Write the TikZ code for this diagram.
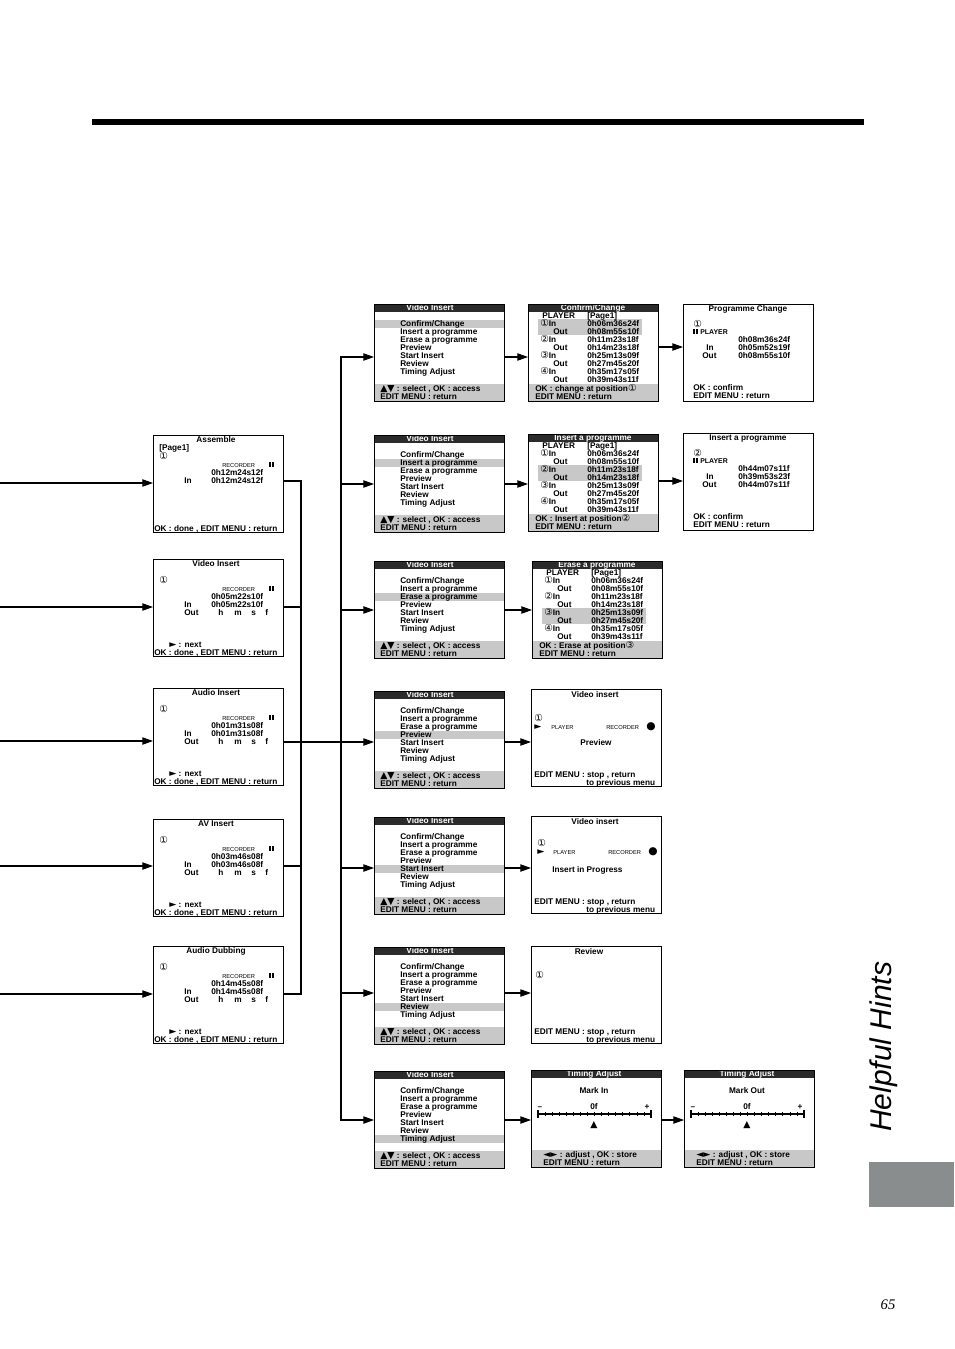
\documentclass[tikz,border=0pt]{standalone}
\usepackage{fontspec}
\setmainfont{Liberation Sans}
\newfontfamily\dv{DejaVu Sans}
\newfontfamily\serifit{Liberation Serif}
\usetikzlibrary{arrows.meta}
\definecolor{bardark}{HTML}{2B2B2B}
\definecolor{hlgray}{HTML}{C8C8C8}
\definecolor{tabgray}{HTML}{8A8D8E}
\newcommand\fs{\fontsize{6.2}{7}\selectfont\bfseries}
\newcommand\fsm{\fontsize{4.3}{5}\selectfont\mdseries}
\newcommand\fpl{\fontsize{5.2}{6}\selectfont\bfseries}
\newcommand\cd[1]{{\dv\mdseries\fontsize{7.2}{7}\selectfont #1}}
\newcommand\sym[1]{{\dv\fontsize{7}{7}\selectfont #1}}
\tikzset{
  scr/.style={draw=black, line width=0.9pt, minimum width=97.5pt, minimum height=72.75pt, anchor=north west, inner sep=0},
  tx/.style={anchor=base west, inner sep=0, font=\fs},
  tc/.style={anchor=base, inner sep=0, font=\fs},
  wt/.style={tc, text=white},
  bar/.style={fill=bardark},
  hl/.style={fill=hlgray},
  ln/.style={line width=0.8pt},
  arr/.style={ln, -{Triangle[length=8pt,width=5.5pt]}},
}
% pause symbol at local (x,y-baseline)
\newcommand\pause[2]{\fill (#1,#2-5.5) rectangle (#1+1.8,#2); \fill (#1+3,#2-5.5) rectangle (#1+4.8,#2);}
% column 2 menu
\newcommand\menubox[4]{%
\begin{scope}[shift={(#2,#3)}]
  \fill[hl] (0,15.5+8*#4) rectangle (130,23.5+8*#4);
  \fill[bar] (0,0) rectangle (130,8);
  \fill[hl] (0,80) rectangle (130,97);
  \node[wt] at (56,6.6) {Video Insert};
  \node[tx] at (26,22) {Confirm/Change};
  \node[tx] at (26,30) {Insert a programme};
  \node[tx] at (26,38) {Erase a programme};
  \node[tx] at (26,46) {Preview};
  \node[tx] at (26,54) {Start Insert};
  \node[tx] at (26,62) {Review};
  \node[tx] at (26,70) {Timing Adjust};
  \node[tx] at (6,87) {\sym{▲▼} : select , OK : access};
  \node[tx] at (6,95) {EDIT MENU : return};
\end{scope}
\node[scr] (#1) at (#2,#3) {};}
% column 3 list
\newcommand\listbox[6]{%
\begin{scope}[shift={(#2,#3)}]
  \fill[hl] (10,15+16*#5) rectangle (114,31+16*#5);
  \fill[bar] (0,0) rectangle (130,8);
  \fill[hl] (0,80) rectangle (130,97);
  \node[wt] at (65,6.6) {#4};
  \node[tx] at (14,14) {PLAYER};
  \node[tx] at (59,14) {[Page1]};
  \node[tx] at (12,22) {\cd{①}In};  \node[tx] at (59,22) {0h06m36s24f};
  \node[tx] at (25,30) {Out};       \node[tx] at (59,30) {0h08m55s10f};
  \node[tx] at (12,38) {\cd{②}In};  \node[tx] at (59,38) {0h11m23s18f};
  \node[tx] at (25,46) {Out};       \node[tx] at (59,46) {0h14m23s18f};
  \node[tx] at (12,54) {\cd{③}In};  \node[tx] at (59,54) {0h25m13s09f};
  \node[tx] at (25,62) {Out};       \node[tx] at (59,62) {0h27m45s20f};
  \node[tx] at (12,70) {\cd{④}In};  \node[tx] at (59,70) {0h35m17s05f};
  \node[tx] at (25,78) {Out};       \node[tx] at (59,78) {0h39m43s11f};
  \node[tx] at (7,87) {#6};
  \node[tx] at (7,95) {EDIT MENU : return};
\end{scope}
\node[scr] (#1) at (#2,#3) {};}
% column 4 programme confirm
\newcommand\progbox[8]{%
\begin{scope}[shift={(#2,#3)}]
  \node[tc] at (65,7) {#4};
  \node[tx] at (10,23) {\cd{#5}};
  \pause{10}{30}
  \node[tx,font=\fpl] at (17,30) {PLAYER};
  \node[tx] at (55,38) {#6};
  \node[tx] at (23,46) {In};  \node[tx] at (55,46) {#7};
  \node[tx] at (19,54) {Out}; \node[tx] at (55,54) {#8};
  \node[tx] at (10,86) {OK : confirm};
  \node[tx] at (10,94) {EDIT MENU : return};
\end{scope}
\node[scr] (#1) at (#2,#3) {};}
% left column
\newcommand\leftbox[5]{%
\begin{scope}[shift={(#2,#3)}]
  \node[tc] at (63,7) {#4};
  \node[tx] at (6,24) {\cd{①}};
  \node[tx,font=\fsm] at (69,32) {RECORDER};
  \pause{116}{32}
  \node[tx] at (58,40) {#5};
  \node[tx] at (31,48) {In};  \node[tx] at (58,48) {#5};
  \node[tx] at (31,56) {Out};
  \node[tx] at (65,56) {h}; \node[tx] at (81,56) {m}; \node[tx] at (98,56) {s}; \node[tx] at (112,56) {f};
  \node[tx] at (16,88) {\sym{►} : next};
  \node[tx] at (1,96) {OK : done , EDIT MENU : return};
\end{scope}
\node[scr] (#1) at (#2,#3) {};}
% timing adjust
\newcommand\timebox[4]{%
\begin{scope}[shift={(#2,#3)}]
  \fill[bar] (0,0) rectangle (130,8);
  \fill[hl] (0,80) rectangle (130,97);
  \node[wt] at (63,6.6) {Timing Adjust};
  \node[tc] at (63,23) {#4};
  \node[tc] at (9,39) {--};
  \node[tc] at (63,39) {0f};
  \node[tc] at (116,39) {+};
  \draw[line width=0.8pt] (7,44) -- (120,44);
  \draw[line width=0.8pt] (7,40) -- (7,48);
  \draw[line width=0.8pt] (120,40) -- (120,48);
  \foreach \i in {1,...,15} {\draw[line width=0.5pt] (7+\i*7.0625,42.3) -- (7+\i*7.0625,45.7);}
  \node[tc] at (63,57) {\sym{▲}};
  \node[tx] at (12,87) {\sym{◄►} : adjust , OK : store};
  \node[tx] at (12,95) {EDIT MENU : return};
\end{scope}
\node[scr] (#1) at (#2,#3) {};}
\begin{document}
\begin{tikzpicture}[x=0.75pt,y=-0.75pt]
\useasboundingbox (0,0) rectangle (954,1349);
% header bar
\fill (92,119) rectangle (864,125);
% left column
\begin{scope}[shift={(153,435)}]
  \node[tc] at (63,7) {Assemble};
  \node[tx] at (6,15) {[Page1]};
  \node[tx] at (6,24) {\cd{①}};
  \node[tx,font=\fsm] at (69,32) {RECORDER};
  \pause{116}{32}
  \node[tx] at (58,40) {0h12m24s12f};
  \node[tx] at (31,48) {In};  \node[tx] at (58,48) {0h12m24s12f};
  \node[tx] at (1,96) {OK : done , EDIT MENU : return};
\end{scope}
\node[scr] (L1) at (153,435) {};
\leftbox{L2}{153}{559}{Video Insert}{0h05m22s10f}
\leftbox{L3}{153}{688}{Audio Insert}{0h01m31s08f}
\leftbox{L4}{153}{819}{AV Insert}{0h03m46s08f}
\leftbox{L5}{153}{946}{Audio Dubbing}{0h14m45s08f}
% column 2
\menubox{M1}{374}{304}{0}
\menubox{M2}{374}{435}{1}
\menubox{M3}{374}{561}{2}
\menubox{M4}{374}{691}{3}
\menubox{M5}{374}{817}{4}
\menubox{M6}{374}{947}{5}
\menubox{M7}{374}{1071}{6}
% column 3
\listbox{C1}{528}{304}{Confirm/Change}{0}{OK : change at position\cd{①}}
\listbox{C2}{528}{434}{Insert a programme}{1}{OK : Insert at position\cd{②}}
\listbox{C3}{532}{561}{Erase a programme}{2}{OK : Erase at position\cd{③}}
\begin{scope}[shift={(531,689)}]
  \node[tc] at (64,8) {Video insert};
  \node[tx] at (3,32) {\cd{①}};
  \node[tx] at (3,40) {\sym{►}};
  \node[tx,font=\fsm] at (20,40) {PLAYER};
  \node[tx,font=\fsm] at (75,40) {RECORDER};
  \node[tx] at (115,40.5) {\dv\fontsize{8}{8}\selectfont ●};
  \node[tc] at (65,56) {Preview};
  \node[tx] at (3,88) {EDIT MENU : stop , return};
  \node[tx] at (55,96) {to previous menu};
\end{scope}
\node[scr] (P4) at (531,689) {};
\begin{scope}[shift={(531,816)}]
  \node[tc] at (64,8) {Video insert};
  \node[tx] at (6,30) {\cd{①}};
  \node[tx] at (6,38) {\sym{►}};
  \node[tx,font=\fsm] at (22,38) {PLAYER};
  \node[tx,font=\fsm] at (77,38) {RECORDER};
  \node[tx] at (117,38.5) {\dv\fontsize{8}{8}\selectfont ●};
  \node[tx] at (21,56) {Insert in Progress};
  \node[tx] at (3,88) {EDIT MENU : stop , return};
  \node[tx] at (55,96) {to previous menu};
\end{scope}
\node[scr] (P5) at (531,816) {};
\begin{scope}[shift={(531,946)}]
  \node[tc] at (58,8) {Review};
  \node[tx] at (4,32) {\cd{①}};
  \node[tx] at (3,88) {EDIT MENU : stop , return};
  \node[tx] at (55,96) {to previous menu};
\end{scope}
\node[scr] (P6) at (531,946) {};
\timebox{T7}{531}{1070}{Mark In}
% column 4
\progbox{D1}{683}{304}{Programme Change}{①}{0h08m36s24f}{0h05m52s19f}{0h08m55s10f}
\progbox{D2}{683}{433}{Insert a programme}{②}{0h44m07s11f}{0h39m53s23f}{0h44m07s11f}
\timebox{T8}{684}{1070}{Mark Out}
% incoming arrows
\coordinate (E) at (0,0);
\draw[arr] (E |- 0,483) -- (L1.west |- 0,483);
\draw[arr] (E |- 0,607) -- (L2.west |- 0,607);
\draw[arr] (E |- 0,741) -- (L3.west |- 0,741);
\draw[arr] (E |- 0,866) -- (L4.west |- 0,866);
\draw[arr] (E |- 0,994) -- (L5.west |- 0,994);
% bus
\coordinate (bl) at (301,742);
\coordinate (br) at (341,742);
\draw[ln] (L1.east |- 0,481) -| (bl);
\draw[ln] (L2.east |- 0,607) -| (bl);
\draw[ln] (L4.east |- 0,866) -| (bl);
\draw[ln] (L5.east |- 0,994) -| (bl);
\draw[ln] (L3.east |- bl) -- (br);
\draw[arr] (br) |- (M1.west |- 0,357);
\draw[arr] (br) |- (M2.west |- 0,484);
\draw[arr] (br) |- (M3.west |- 0,610);
\draw[arr] (br) -- (M4.west |- br);
\draw[arr] (br) |- (M5.west |- 0,868);
\draw[arr] (br) |- (M6.west |- 0,993);
\draw[arr] (br) |- (M7.west |- 0,1120);
% column 2 to 3
\draw[arr] (M1.east |- 0,357) -- (C1.west |- 0,357);
\draw[arr] (M2.east |- 0,484) -- (C2.west |- 0,484);
\draw[arr] (M3.east |- 0,610) -- (C3.west |- 0,610);
\draw[arr] (M4.east |- 0,742) -- (P4.west |- 0,742);
\draw[arr] (M5.east |- 0,868) -- (P5.west |- 0,868);
\draw[arr] (M6.east |- 0,993) -- (P6.west |- 0,993);
\draw[arr] (M7.east |- 0,1120) -- (T7.west |- 0,1120);
% column 3 to 4
\draw[arr] (C1.east |- 0,347) -- (D1.west |- 0,347);
\draw[arr] (C2.east |- 0,481) -- (D2.west |- 0,481);
\draw[arr] (T7.east |- 0,1120) -- (T8.west |- 0,1120);
% side tab
\node[rotate=90, anchor=base west, inner sep=0, font=\fontsize{22.5}{24}\selectfont\itshape] (hh) at (891,1132) {Helpful Hints};
\fill[tabgray] (869,1162) rectangle (954,1207);
\node[inner sep=0, font=\serifit\itshape\fontsize{11}{12}\selectfont] (pg) at (888,1305) {65};
\end{tikzpicture}
\end{document}
